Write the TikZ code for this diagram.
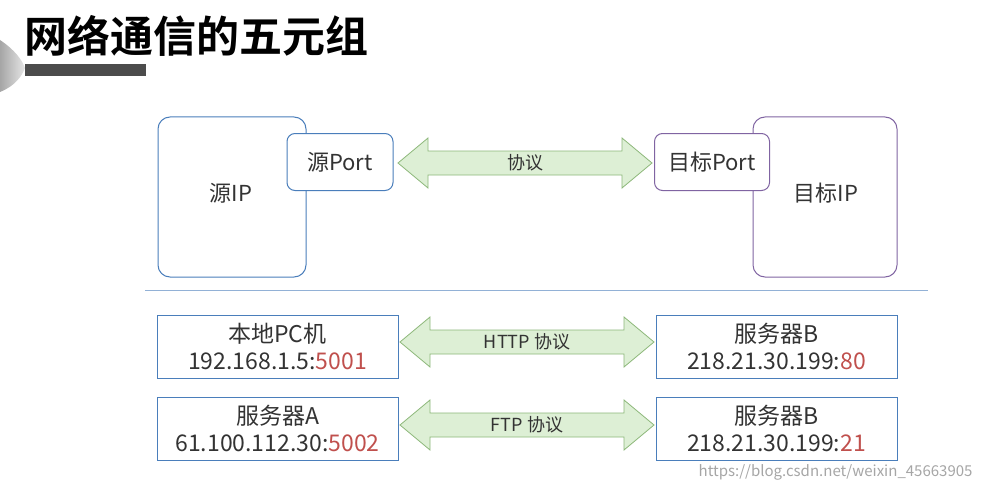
\documentclass[tikz,border=0pt]{standalone}
\usepackage{fontspec}
\setmainfont{Noto Sans CJK SC}
\newfontfamily\titlefont{Noto Sans CJK SC Bold}
\definecolor{bl}{HTML}{4A7EBB}
\definecolor{pu}{HTML}{8064A2}
\definecolor{ar}{HTML}{DDEFD5}
\definecolor{arb}{HTML}{8DB87A}
\definecolor{rd}{HTML}{C0504D}
\definecolor{tx}{HTML}{333333}
\tikzset{
 rbox/.style={draw=#1,line width=1pt,rounded corners=12pt,fill=white},
 sbox/.style={draw=#1,line width=1pt,fill=white,text=tx,font=\fontsize{23}{27}\selectfont,align=center,inner sep=0pt},
 lbl/.style={text=tx,font=\fontsize{22}{26}\selectfont},
 albl/.style={text=tx,font=\fontsize{18}{21}\selectfont},
 darr/.style={fill=ar,draw=arb,line width=0.8pt}
}
\newcommand{\dblarrow}[3]{% x1,x2,yc
 \draw[darr] (#1,#3) -- (#1+30,#3-25) -- (#1+30,#3-12) -- (#2-30,#3-12) -- (#2-30,#3-25) -- (#2,#3) -- (#2-30,#3+25) -- (#2-30,#3+12) -- (#1+30,#3+12) -- (#1+30,#3+25) -- cycle;
}
\begin{document}
\begin{tikzpicture}[x=1pt,y=-1pt]
\useasboundingbox (0,0) rectangle (984,492);
\fill[white] (0,0) rectangle (984,492);
\shade[left color=gray!70,right color=gray!20] (0,40) .. controls (15,50) and (22,60) .. (25,68) .. controls (22,76) and (15,86) .. (0,92) -- cycle;
\node[anchor=west,font=\titlefont\fontsize{43}{50}\selectfont,inner sep=0pt] (title) at (24,36) {网络通信的五元组};
\fill[black!70] (25,64) rectangle (146,76);
% top
\node[rbox=bl,minimum width=148pt,minimum height=160pt] (srcip) at (232,197) {};
\node[lbl] (srciplbl) at (231,193) {源IP};
\node[rbox=bl,rounded corners=8pt,minimum width=106pt,minimum height=57pt,lbl] (srcport) at (340,162) {源Port};
\node[rbox=pu,minimum width=144pt,minimum height=160pt] (dstip) at (825,197) {};
\node[lbl] (dstiplbl) at (826,193) {目标IP};
\node[rbox=pu,rounded corners=8pt,minimum width=115pt,minimum height=57pt,lbl] (dstport) at (712,162) {目标Port};
\dblarrow{398}{652}{163}
\node[albl] (proto) at (525,163) {协议};
\draw[bl!60,line width=1pt] (145,290) coordinate (l1) -- (928,290) coordinate (l2);
% rows
\node[sbox=bl,minimum width=241pt,minimum height=63pt] (pc) at (277.5,346.5) {本地PC机\\192.168.1.5:\textcolor{rd}{5001}};
\node[sbox=bl,minimum width=241pt,minimum height=63pt] (sb1) at (776.5,346.5) {服务器B\\218.21.30.199:\textcolor{rd}{80}};
\dblarrow{400}{654}{342}
\node[albl] (http) at (527,342) {HTTP 协议};
\node[sbox=bl,minimum width=241pt,minimum height=63pt] (sa) at (277.5,428.5) {服务器A\\61.100.112.30:\textcolor{rd}{5002}};
\node[sbox=bl,minimum width=241pt,minimum height=63pt] (sb2) at (776.5,428.5) {服务器B\\218.21.30.199:\textcolor{rd}{21}};
\dblarrow{400}{654}{425}
\node[albl] (ftp) at (527,425) {FTP 协议};
\node[anchor=east,text=gray!70,font=\fontsize{15}{17}\selectfont] (wm) at (976,472) {https://blog.csdn.net/weixin\_45663905};
\end{tikzpicture}
\end{document}
